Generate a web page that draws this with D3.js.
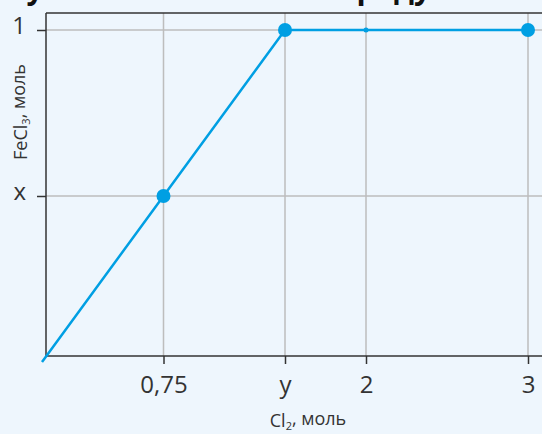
<!DOCTYPE html>
<html>
<head>
<meta charset="utf-8">
<script src="https://cdn.jsdelivr.net/npm/d3@7"></script>
<style>
    body { margin: 0; background: #eef6fd; }
    svg { display: block; font-family: "Open Sans", sans-serif; }
</style>
</head>
<body>
<div id="chart"></div>
<script>
// Cl2 (моль) -> FeCl3 (моль)
var clValues = [0, 0.75, 1.5, 2, 3];
var feclValues = [0, 0.5, 1, 1, 1];
var bigMarkers = [false, true, true, false, true];

var xTicks = [0.75, 1.5, 2, 3];
var xTickLabels = ["0,75", "y", "2", "3"];
var yTicks = [0.5, 1];
var yTickLabels = ["x", "1"];

var width = 542, height = 434;
var frameTop = 13;

var svg = d3.select("#chart")
    .append("svg")
    .attr("width", width)
    .attr("height", height);

var xScale = d3.scaleLinear()
    .domain([0, 3])
    .range([42, 528]);

var yScale = d3.scaleLinear()
    .domain([0, 1])
    .range([362, 30]);

// the axes cross a little inside the data origin
var axisX = xScale(0) + 4;
var axisY = yScale(0) - 6;

// title, mostly cut off at the top
svg.append("text")
    .attr("x", -12)
    .attr("y", -1)
    .style("font-size", "30px")
    .style("font-weight", "bold")
    .style("fill", "#111")
    .text("Случай 1: количество продукта FeCl₃");

// grid
svg.append("g")
    .selectAll("line")
    .data(xTicks)
    .enter().append("line")
    .attr("x1", function(d) { return xScale(d) })
    .attr("x2", function(d) { return xScale(d) })
    .attr("y1", axisY)
    .attr("y2", frameTop)
    .attr("stroke", "#bdbdbd")
    .attr("stroke-width", 1.5);

svg.append("g")
    .selectAll("line")
    .data(yTicks)
    .enter().append("line")
    .attr("x1", axisX)
    .attr("x2", width)
    .attr("y1", function(d) { return yScale(d) })
    .attr("y2", function(d) { return yScale(d) })
    .attr("stroke", "#bdbdbd")
    .attr("stroke-width", 1.5);

// axes
var xAxis = svg.append("g")
    .attr("transform", "translate(0," + axisY + ")")
    .call(d3.axisBottom(xScale).tickValues(xTicks).tickSize(8).tickPadding(12)
        .tickFormat(function(d, i) { return xTickLabels[i] }));

var yAxis = svg.append("g")
    .attr("transform", "translate(" + axisX + ",0)")
    .call(d3.axisLeft(yScale).tickValues(yTicks).tickSize(9).tickPadding(11)
        .tickFormat(function(d, i) { return yTickLabels[i] }));

[xAxis, yAxis].forEach(function(ax) {
    ax.select(".domain").remove();
    ax.selectAll("line").attr("stroke", "#333").attr("stroke-width", 1.5);
    ax.selectAll("text")
        .style("font-family", "'Open Sans', sans-serif")
        .style("font-size", "24px")
        .style("fill", "#333");
});
yAxis.selectAll("text").attr("dy", "0.15em");

// frame: left, bottom, top
svg.append("line")
    .attr("x1", axisX).attr("x2", axisX)
    .attr("y1", frameTop).attr("y2", axisY)
    .attr("stroke", "#333").attr("stroke-width", 1.5);
svg.append("line")
    .attr("x1", axisX).attr("x2", width)
    .attr("y1", axisY).attr("y2", axisY)
    .attr("stroke", "#333").attr("stroke-width", 1.5);
svg.append("line")
    .attr("x1", axisX).attr("x2", width)
    .attr("y1", frameTop).attr("y2", frameTop)
    .attr("stroke", "#333").attr("stroke-width", 1.5);

// axis titles
var xTitle = svg.append("text")
    .attr("x", 308)
    .attr("y", 427)
    .style("text-anchor", "middle")
    .style("font-size", "18px")
    .style("fill", "#333");
xTitle.append("tspan").text("Cl");
xTitle.append("tspan").attr("dy", "0.3em").style("font-size", "11px").text("2");
xTitle.append("tspan").attr("dy", "-0.3em").text(", моль");

var yTitle = svg.append("text")
    .attr("transform", "translate(27,112) rotate(-90)")
    .style("text-anchor", "middle")
    .style("font-size", "18px")
    .style("fill", "#333");
yTitle.append("tspan").text("FeCl");
yTitle.append("tspan").attr("dy", "0.3em").style("font-size", "11px").text("3");
yTitle.append("tspan").attr("dy", "-0.3em").text(", моль");

// line
var points = clValues.map(function(d, i) {
    return {x: d, y: feclValues[i], big: bigMarkers[i]};
});

var line = d3.line()
    .x(function(d) { return xScale(d.x) })
    .y(function(d) { return yScale(d.y) });

svg.append("path")
    .datum(points)
    .attr("fill", "none")
    .attr("stroke", "#009fe3")
    .attr("stroke-width", 2.5)
    .attr("d", line);

svg.selectAll(".dot")
    .data(points.filter(function(d, i) { return i > 0 }))
    .enter().append("circle")
    .attr("cx", function(d) { return xScale(d.x) })
    .attr("cy", function(d) { return yScale(d.y) })
    .attr("r", function(d) { return d.big ? 7 : 2.5 })
    .attr("fill", "#009fe3");
</script>
</body>
</html>
